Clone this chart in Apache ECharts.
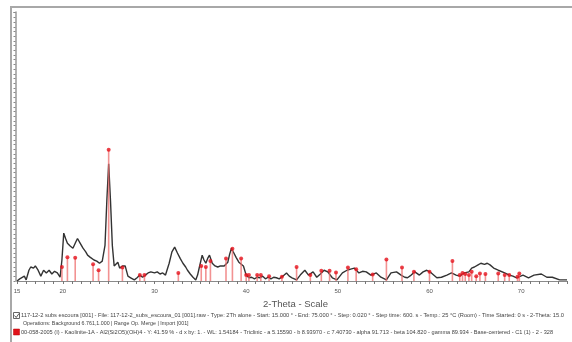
<!DOCTYPE html>
<html>
<head>
<meta charset="utf-8">
<script src="https://cdn.jsdelivr.net/npm/echarts@6/dist/echarts.min.js"></script>
<style>html,body{margin:0;padding:0;background:#fff;}#c{width:572px;height:342px;}</style>
</head>
<body>
<div id="c"></div>
<script>
// Measured pattern (2-Theta in degrees, intensity in arbitrary counts)
const twoTheta = [15.0,15.3,15.5,15.8,16.0,16.3,16.5,16.8,17.0,17.3,17.6,17.9,18.2,18.5,18.8,19.1,19.4,19.7,19.9,20.1,20.3,20.5,20.8,21.1,21.4,21.6,21.9,22.2,22.5,22.7,23.0,23.4,23.7,24.0,24.3,24.6,24.8,25.0,25.2,25.4,25.6,25.8,26.0,26.2,26.5,26.8,27.1,27.4,27.8,28.1,28.4,28.7,29.0,29.3,29.6,30.0,30.3,30.6,30.9,31.2,31.6,31.9,32.2,32.5,32.8,33.1,33.4,33.6,33.9,34.2,34.5,34.7,34.9,35.2,35.4,35.6,35.8,36.0,36.3,36.6,36.9,37.2,37.6,38.0,38.2,38.4,38.6,38.9,39.2,39.4,39.7,40.0,40.3,40.6,40.9,41.2,41.5,41.8,42.1,42.4,42.7,43.0,43.3,43.6,44.0,44.4,44.7,45.0,45.5,45.9,46.4,46.8,47.3,47.7,48.1,48.5,48.9,49.4,49.9,50.5,51.0,51.4,51.8,52.3,52.7,53.1,53.6,54.2,54.7,55.3,55.8,56.4,56.9,57.3,57.6,58.0,58.4,58.9,59.3,59.7,60.2,60.8,61.3,61.9,62.4,62.9,63.3,63.8,64.3,64.6,64.9,65.3,65.6,66.0,66.3,66.6,67.0,67.5,68.2,68.7,69.1,69.5,70.2,70.8,71.4,72.2,72.8,73.4,74.2,75.0];
const counts = [0,4,7,9,2,20,26,24,28,20,9,20,15,20,13,18,15,7,39,89,79,70,65,61,72,79,70,61,54,48,44,39,37,33,37,66,149,218,149,66,28,31,35,24,28,28,9,6,2,6,11,7,11,15,17,15,17,13,15,11,33,54,63,52,42,33,26,20,13,7,2,11,26,48,39,33,42,48,33,28,26,28,28,35,50,61,54,44,35,37,28,11,6,7,4,7,6,9,4,7,4,7,6,4,9,15,9,6,2,11,20,11,17,7,13,20,17,6,2,15,20,22,24,15,18,17,11,15,7,2,15,17,11,7,6,11,17,11,17,20,15,6,7,11,15,11,9,15,17,24,26,30,33,31,33,30,24,20,15,11,9,6,11,6,11,13,7,7,2,2];

// Reference pattern: Kaolinite-1A sticks
const refPos = [19.9,20.5,21.35,23.3,23.9,25.0,26.5,28.4,28.9,32.6,35.1,35.6,36.1,37.8,38.5,39.45,40.0,40.3,41.2,41.6,42.5,43.9,45.5,47.0,48.2,49.1,49.8,51.1,52.0,53.8,55.3,57.0,58.3,60.0,62.5,63.3,63.6,63.9,64.3,64.6,65.1,65.5,66.1,67.5,68.2,68.7,69.6,69.8];
const refInt = [26,44,43,31,20,244,25,11,11,15,28,26,37,42,60,42,11,11,11,11,9,8,26,11,19,19,16,25,22,12,40,25,17,17,37,11,15,13,11,17,9,14,13,14,11,11,8,14];

// Axis tick labels
const xTickLabels = [15,20,30,40,50,60,70];

const axisTitle = '2-Theta - Scale';
const legendLine1 = '117-12-2 subs escoura [001] - File: 117-12-2_subs_escoura_01 [001].raw - Type: 2Th alone - Start: 15.000 \u00b0 - End: 75.000 \u00b0 - Step: 0.020 \u00b0 - Step time: 600. s - Temp.: 25 \u00b0C (Room) - Time Started: 0 s - 2-Theta: 15.0';
const legendLine2 = 'Operations: Background 6.761,1.000 | Range Op. Merge | Import [001]';
const legendLine3 = '00-058-2005 (I) - Kaolinite-1A - Al2(Si2O5)(OH)4 - Y: 41.59 % - d x by: 1. - WL: 1.54184 - Triclinic - a 5.15590 - b 8.93970 - c 7.40730 - alpha 91.713 - beta 104.820 - gamma 89.934 - Base-centered - C1 (1) - 2 - 328';

const chart = echarts.init(document.getElementById('c'), null, {renderer: 'canvas'});
const font = 'Arial, "Liberation Sans", sans-serif';
chart.setOption({
  animation: false,
  backgroundColor: '#fff',
  grid: {left: 17, right: 5, top: 12, bottom: 61},
  xAxis: {
    type: 'value', min: 15, max: 75, interval: 1,
    axisLine: {lineStyle: {color: '#8a8a8a', width: 1.2}},
    axisTick: {length: 3, lineStyle: {color: '#777'}},
    axisLabel: {customValues: xTickLabels, fontSize: 6, color: '#555', margin: 7, fontFamily: font},
    splitLine: {show: false}
  },
  yAxis: {
    type: 'value', min: 0, max: 500, interval: 8.75, offset: 1.5,
    axisLine: {show: true, lineStyle: {color: '#999', width: 1.5}},
    axisTick: {show: true, length: 2, lineStyle: {color: '#888'}},
    axisLabel: {show: false},
    splitLine: {show: false}
  },
  series: [
    {
      type: 'line', data: twoTheta.map((x, i) => [x, counts[i]]),
      showSymbol: false, lineStyle: {color: '#333', width: 1.4}, z: 2
    },
    {
      type: 'bar', data: refPos.map((x, i) => [x, refInt[i]]),
      barWidth: 1.6, itemStyle: {color: 'rgba(238,110,110,0.75)'}, z: 3
    },
    {
      type: 'scatter', data: refPos.map((x, i) => [x, refInt[i]]),
      symbol: 'circle', symbolSize: 4, itemStyle: {color: '#e5121c'}, z: 4
    }
  ],
  graphic: [
    {type: 'rect', shape: {x: 11, y: 7, width: 620, height: 400}, style: {fill: 'none', stroke: '#a8a8a8', lineWidth: 2}, silent: true},
    {type: 'text', left: 263, top: 299, style: {text: axisTitle, font: '9.5px ' + font, fill: '#555'}},
    {type: 'rect', shape: {x: 13.5, y: 312.5, width: 6, height: 6}, style: {fill: '#fff', stroke: '#666', lineWidth: 1}},
    {type: 'polyline', shape: {points: [[14.5, 315.5], [16.2, 317.5], [19, 313.5]]}, style: {stroke: '#444', lineWidth: 0.9, fill: 'none'}},
    {type: 'text', left: 21, top: 312.5, style: {text: legendLine1, font: '5.7px ' + font, fill: '#444'}},
    {type: 'text', left: 23, top: 321.5, style: {text: legendLine2, font: '5.3px ' + font, fill: '#444'}},
    {type: 'rect', shape: {x: 13.5, y: 329, width: 6, height: 6}, style: {fill: '#e0121a', stroke: '#b00', lineWidth: 0.5}},
    {type: 'text', left: 21, top: 329.5, style: {text: legendLine3, font: '5.6px ' + font, fill: '#444'}}
  ]
});
</script>
</body>
</html>
